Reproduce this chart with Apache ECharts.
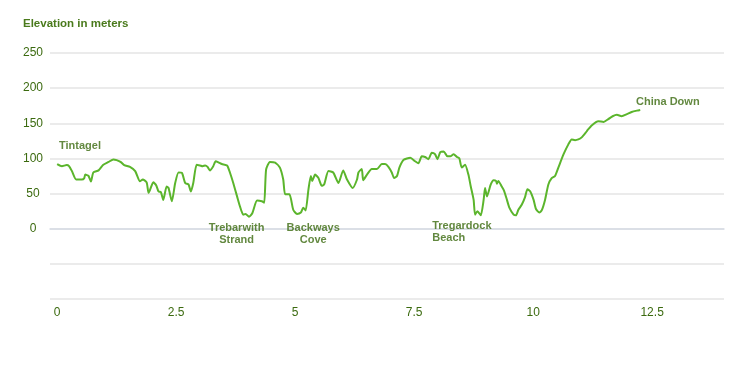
<!DOCTYPE html>
<html>
<head>
<meta charset="utf-8">
<script src="https://cdn.jsdelivr.net/npm/echarts@6/dist/echarts.min.js"></script>
<style>
html,body{margin:0;padding:0;background:#fff;}
#c{width:750px;height:384px;}
</style>
</head>
<body>
<div id="c"></div>
<script>
// Distance along the route (km)
var distanceKm = [
  0.00, 0.10, 0.20, 0.25, 0.31, 0.40, 0.52, 0.57, 0.59, 0.66,
  0.71, 0.76, 0.87, 0.97, 1.08, 1.18, 1.25, 1.34, 1.41, 1.53,
  1.64, 1.74, 1.80, 1.88, 1.92, 1.95, 2.02, 2.08, 2.13, 2.18,
  2.23, 2.30, 2.34, 2.41, 2.48, 2.55, 2.62, 2.69, 2.76, 2.81,
  2.86, 2.93, 3.00, 3.06, 3.11, 3.16, 3.21, 3.28, 3.33, 3.40,
  3.46, 3.57, 3.63, 3.70, 3.78, 3.84, 3.91, 3.96, 4.03, 4.10,
  4.20, 4.30, 4.35, 4.39, 4.47, 4.58, 4.68, 4.75, 4.79, 4.88,
  4.96, 5.04, 5.12, 5.17, 5.22, 5.28, 5.33, 5.36, 5.42, 5.49,
  5.56, 5.61, 5.70, 5.80, 5.91, 6.01, 6.09, 6.21, 6.30, 6.33,
  6.40, 6.43, 6.51, 6.61, 6.72, 6.82, 6.89, 6.96, 7.03, 7.08,
  7.14, 7.19, 7.28, 7.42, 7.52, 7.59, 7.66, 7.73, 7.80, 7.87,
  7.94, 7.99, 8.05, 8.12, 8.20, 8.26, 8.33, 8.40, 8.45, 8.50,
  8.57, 8.64, 8.69, 8.75, 8.78, 8.83, 8.90, 8.96, 8.99, 9.03,
  9.11, 9.17, 9.22, 9.24, 9.27, 9.34, 9.39, 9.45, 9.50, 9.59,
  9.64, 9.69, 9.76, 9.83, 9.88, 9.94, 10.01, 10.06, 10.13, 10.18,
  10.25, 10.32, 10.39, 10.46, 10.53, 10.64, 10.74, 10.81, 10.88, 10.95,
  11.02, 11.13, 11.23, 11.37, 11.48, 11.58, 11.67, 11.76, 11.86, 11.97,
  12.07, 12.18, 12.25
];
// Elevation (m)
var elevationM = [
  92, 89, 90.5, 89, 82, 70, 70, 72, 77, 75,
  67, 80, 83, 91, 95, 98.6, 97.6, 94.7, 90.4, 88,
  82, 67.6, 70, 66, 51, 55, 66, 62, 53, 52,
  41, 60, 58, 39, 65, 80, 79.6, 65, 63, 53,
  65, 91, 90, 89, 90, 88, 83, 89, 96, 94,
  92, 90, 80, 65, 46, 32, 20, 21, 17, 22,
  40, 39, 37, 84, 95, 94, 87, 70, 49, 49,
  27, 21, 23, 30, 26, 56, 75, 68, 77, 72,
  61, 63, 82, 80, 65, 83, 70, 58, 70, 80,
  85, 69, 77, 85, 85, 92, 92, 88, 80, 72,
  75, 87, 98, 101, 96, 93, 103, 102, 99, 108,
  106, 99, 109, 110, 103, 103, 106, 102, 100, 87,
  91, 77, 60, 41, 20, 25, 19, 41, 58, 46,
  63, 69, 68, 64, 68, 60, 54, 41, 30, 20,
  19, 27, 34, 45, 56, 53, 41, 28, 23, 26,
  41, 63, 72, 75, 87, 106, 120, 127, 126, 127,
  130, 139, 147, 153, 152, 156, 160, 162, 160, 163,
  166, 168, 169
];
// X tick labels (km)
var xTicks = [0, 2.5, 5, 7.5, 10, 12.5];
// Place-name annotations
var placeNames = ['Tintagel', 'Trebarwith\nStrand', 'Backways\nCove', 'Tregardock\nBeach', 'China Down'];
var placeKm    = [0.48, 3.77, 5.38, 7.88, 12.83];
var placeElev  = [118, -8, -8, -5, 180];
var placeAlign = ['center', 'center', 'center', 'left', 'center'];

var lineData = distanceKm.map(function (d, i) { return [d, elevationM[i]]; });
var placeData = placeNames.map(function (n, i) {
  return {
    value: [placeKm[i], placeElev[i]],
    name: n,
    label: { align: placeAlign[i] }
  };
});

var green = '#3b6a0f';
var chart = echarts.init(document.getElementById('c'), null, { renderer: 'canvas' });
chart.setOption({
  animation: false,
  backgroundColor: '#ffffff',
  title: {
    text: 'Elevation in meters',
    left: 18, top: 13,
    textStyle: { fontFamily: 'Liberation Sans', fontSize: 11.5, fontWeight: 'bold', color: '#4a7a1c' }
  },
  grid: { left: 50, right: 26, top: 53, bottom: 85 },
  xAxis: {
    type: 'value',
    min: -0.15, max: 14.01,
    axisLine: { show: true, lineStyle: { color: '#d6dce5', width: 1.5 } },
    axisTick: { show: false },
    splitLine: { show: false },
    axisLabel: {
      customValues: xTicks,
      margin: 8,
      fontFamily: 'Liberation Sans', fontSize: 12, color: green,
      formatter: function (v) { return String(v); }
    }
  },
  yAxis: {
    type: 'value',
    min: -100, max: 250, interval: 50,
    axisLine: { show: false },
    axisTick: { show: false },
    splitLine: { show: true, lineStyle: { color: '#ebebeb', width: 2 } },
    axisLabel: {
      margin: 17, align: 'center',
      fontFamily: 'Liberation Sans', fontSize: 12, color: green,
      formatter: function (v) { return v < 0 ? '' : String(v); }
    }
  },
  series: [
    {
      type: 'line',
      data: lineData,
      showSymbol: false,
      smooth: 0.2,
      lineStyle: { color: '#5bb52c', width: 2 },
      z: 3
    },
    {
      type: 'scatter',
      data: placeData,
      symbolSize: 0,
      silent: true,
      label: {
        show: true,
        position: 'inside',
        formatter: '{b}',
        fontFamily: 'Liberation Sans', fontSize: 11, fontWeight: 'bold',
        color: '#3b6a0f', lineHeight: 12
      },
      z: 4
    }
  ]
});
</script>
</body>
</html>
